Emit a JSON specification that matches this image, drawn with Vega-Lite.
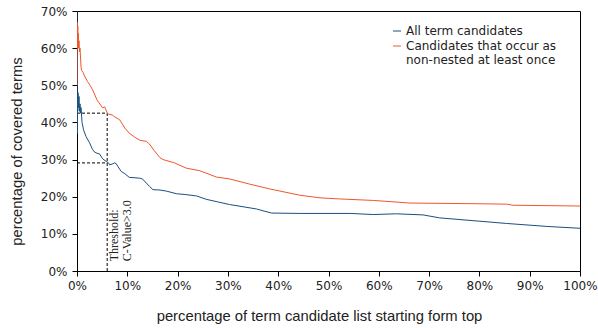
{
  "$schema": "https://vega.github.io/schema/vega-lite/v6.json",
  "width": 503,
  "height": 260,
  "autosize": {"type": "none"},
  "padding": {"left": 77, "top": 11, "right": 18, "bottom": 57},
  "background": "white",
  "config": {
    "view": {"stroke": "black", "strokeWidth": 1},
    "axis": {
      "domainColor": "black",
      "tickColor": "black",
      "tickSize": 5,
      "grid": false,
      "labelOverlap": false,
      "labelFont": "DejaVu Sans",
      "labelFontSize": 12,
      "labelColor": "#222",
      "titleFont": "Liberation Sans",
      "titleFontSize": 14.8,
      "titleFontWeight": "normal",
      "titleColor": "#222"
    }
  },
  "datasets": {
    "series": [
      {"p": 0, "v": 70, "s": "All term candidates"},
      {"p": 0.05, "v": 37, "s": "All term candidates"},
      {"p": 0.1, "v": 47, "s": "All term candidates"},
      {"p": 0.15, "v": 43, "s": "All term candidates"},
      {"p": 0.2, "v": 48, "s": "All term candidates"},
      {"p": 0.3, "v": 44, "s": "All term candidates"},
      {"p": 0.4, "v": 47, "s": "All term candidates"},
      {"p": 0.5, "v": 43, "s": "All term candidates"},
      {"p": 0.6, "v": 45, "s": "All term candidates"},
      {"p": 0.7, "v": 42.5, "s": "All term candidates"},
      {"p": 0.8, "v": 44, "s": "All term candidates"},
      {"p": 0.9, "v": 42, "s": "All term candidates"},
      {"p": 1.0, "v": 40, "s": "All term candidates"},
      {"p": 1.3, "v": 38, "s": "All term candidates"},
      {"p": 1.8, "v": 36.2, "s": "All term candidates"},
      {"p": 2.5, "v": 34.5, "s": "All term candidates"},
      {"p": 3.1, "v": 32.7, "s": "All term candidates"},
      {"p": 3.5, "v": 32, "s": "All term candidates"},
      {"p": 3.8, "v": 31.8, "s": "All term candidates"},
      {"p": 4.5, "v": 31.5, "s": "All term candidates"},
      {"p": 5.1, "v": 30.2, "s": "All term candidates"},
      {"p": 5.8, "v": 29.5, "s": "All term candidates"},
      {"p": 6.2, "v": 29.2, "s": "All term candidates"},
      {"p": 6.5, "v": 28.6, "s": "All term candidates"},
      {"p": 7.0, "v": 28.8, "s": "All term candidates"},
      {"p": 7.5, "v": 29.1, "s": "All term candidates"},
      {"p": 7.8, "v": 28.9, "s": "All term candidates"},
      {"p": 8.1, "v": 28.2, "s": "All term candidates"},
      {"p": 8.8, "v": 26.8, "s": "All term candidates"},
      {"p": 9.5, "v": 26.2, "s": "All term candidates"},
      {"p": 10.4, "v": 25.2, "s": "All term candidates"},
      {"p": 11.5, "v": 25.1, "s": "All term candidates"},
      {"p": 12.4, "v": 25.0, "s": "All term candidates"},
      {"p": 13.0, "v": 24.8, "s": "All term candidates"},
      {"p": 14.4, "v": 22.8, "s": "All term candidates"},
      {"p": 15.1, "v": 21.9, "s": "All term candidates"},
      {"p": 16.5, "v": 21.8, "s": "All term candidates"},
      {"p": 17.8, "v": 21.5, "s": "All term candidates"},
      {"p": 19.8, "v": 20.8, "s": "All term candidates"},
      {"p": 21.5, "v": 20.6, "s": "All term candidates"},
      {"p": 23.8, "v": 20.2, "s": "All term candidates"},
      {"p": 25.7, "v": 19.3, "s": "All term candidates"},
      {"p": 28, "v": 18.6, "s": "All term candidates"},
      {"p": 30.3, "v": 17.9, "s": "All term candidates"},
      {"p": 33, "v": 17.3, "s": "All term candidates"},
      {"p": 35.7, "v": 16.7, "s": "All term candidates"},
      {"p": 37, "v": 16.2, "s": "All term candidates"},
      {"p": 38.7, "v": 15.6, "s": "All term candidates"},
      {"p": 44.3, "v": 15.5, "s": "All term candidates"},
      {"p": 54.3, "v": 15.5, "s": "All term candidates"},
      {"p": 58.9, "v": 15.2, "s": "All term candidates"},
      {"p": 63.5, "v": 15.4, "s": "All term candidates"},
      {"p": 68.8, "v": 15.1, "s": "All term candidates"},
      {"p": 72.1, "v": 14.3, "s": "All term candidates"},
      {"p": 80.1, "v": 13.4, "s": "All term candidates"},
      {"p": 85.4, "v": 12.8, "s": "All term candidates"},
      {"p": 93.4, "v": 12.0, "s": "All term candidates"},
      {"p": 100, "v": 11.5, "s": "All term candidates"},
      {"p": 0, "v": 50, "s": "Candidates that occur as non-nested at least once"},
      {"p": 0.05, "v": 67, "s": "Candidates that occur as non-nested at least once"},
      {"p": 0.1, "v": 60, "s": "Candidates that occur as non-nested at least once"},
      {"p": 0.15, "v": 66, "s": "Candidates that occur as non-nested at least once"},
      {"p": 0.2, "v": 61, "s": "Candidates that occur as non-nested at least once"},
      {"p": 0.25, "v": 64, "s": "Candidates that occur as non-nested at least once"},
      {"p": 0.3, "v": 60, "s": "Candidates that occur as non-nested at least once"},
      {"p": 0.4, "v": 62, "s": "Candidates that occur as non-nested at least once"},
      {"p": 0.5, "v": 59, "s": "Candidates that occur as non-nested at least once"},
      {"p": 0.6, "v": 60, "s": "Candidates that occur as non-nested at least once"},
      {"p": 0.8, "v": 55, "s": "Candidates that occur as non-nested at least once"},
      {"p": 0.9, "v": 54, "s": "Candidates that occur as non-nested at least once"},
      {"p": 1.2, "v": 53.5, "s": "Candidates that occur as non-nested at least once"},
      {"p": 1.5, "v": 52.5, "s": "Candidates that occur as non-nested at least once"},
      {"p": 2.1, "v": 51, "s": "Candidates that occur as non-nested at least once"},
      {"p": 2.6, "v": 50, "s": "Candidates that occur as non-nested at least once"},
      {"p": 3.1, "v": 48.8, "s": "Candidates that occur as non-nested at least once"},
      {"p": 4.0, "v": 46, "s": "Candidates that occur as non-nested at least once"},
      {"p": 5.1, "v": 43.9, "s": "Candidates that occur as non-nested at least once"},
      {"p": 5.5, "v": 44.2, "s": "Candidates that occur as non-nested at least once"},
      {"p": 6.1, "v": 42.3, "s": "Candidates that occur as non-nested at least once"},
      {"p": 7.0, "v": 42, "s": "Candidates that occur as non-nested at least once"},
      {"p": 7.5, "v": 41.5, "s": "Candidates that occur as non-nested at least once"},
      {"p": 8.5, "v": 40.7, "s": "Candidates that occur as non-nested at least once"},
      {"p": 9.5, "v": 38.5, "s": "Candidates that occur as non-nested at least once"},
      {"p": 10.4, "v": 37.1, "s": "Candidates that occur as non-nested at least once"},
      {"p": 11.5, "v": 36, "s": "Candidates that occur as non-nested at least once"},
      {"p": 12.5, "v": 35.2, "s": "Candidates that occur as non-nested at least once"},
      {"p": 13.8, "v": 34.9, "s": "Candidates that occur as non-nested at least once"},
      {"p": 14.4, "v": 34.2, "s": "Candidates that occur as non-nested at least once"},
      {"p": 15.3, "v": 32.5, "s": "Candidates that occur as non-nested at least once"},
      {"p": 16.5, "v": 30.5, "s": "Candidates that occur as non-nested at least once"},
      {"p": 17.1, "v": 30, "s": "Candidates that occur as non-nested at least once"},
      {"p": 19.4, "v": 29.1, "s": "Candidates that occur as non-nested at least once"},
      {"p": 21.7, "v": 27.7, "s": "Candidates that occur as non-nested at least once"},
      {"p": 24.4, "v": 27.0, "s": "Candidates that occur as non-nested at least once"},
      {"p": 27.7, "v": 25.3, "s": "Candidates that occur as non-nested at least once"},
      {"p": 30.3, "v": 24.8, "s": "Candidates that occur as non-nested at least once"},
      {"p": 34.3, "v": 23.4, "s": "Candidates that occur as non-nested at least once"},
      {"p": 38.3, "v": 22.1, "s": "Candidates that occur as non-nested at least once"},
      {"p": 44.3, "v": 20.4, "s": "Candidates that occur as non-nested at least once"},
      {"p": 48.3, "v": 19.7, "s": "Candidates that occur as non-nested at least once"},
      {"p": 52.2, "v": 19.4, "s": "Candidates that occur as non-nested at least once"},
      {"p": 58.9, "v": 19.0, "s": "Candidates that occur as non-nested at least once"},
      {"p": 66.2, "v": 18.3, "s": "Candidates that occur as non-nested at least once"},
      {"p": 80.1, "v": 18.1, "s": "Candidates that occur as non-nested at least once"},
      {"p": 85.4, "v": 18.0, "s": "Candidates that occur as non-nested at least once"},
      {"p": 86.7, "v": 17.7, "s": "Candidates that occur as non-nested at least once"},
      {"p": 100, "v": 17.5, "s": "Candidates that occur as non-nested at least once"}
    ],
    "refs": [
      {"p": 0, "p2": 6, "v": 42.5, "v2": 42.5},
      {"p": 0, "p2": 6, "v": 29.1, "v2": 29.1},
      {"p": 6, "p2": 6, "v": 0, "v2": 42.5}
    ],
    "note": [
      {"p": 6, "v": 2.6}
    ]
  },
  "encoding": {
    "x": {
      "field": "p", "type": "quantitative",
      "scale": {"domain": [0, 100], "nice": false},
      "axis": {
        "values": [0, 10, 20, 30, 40, 50, 60, 70, 80, 90, 100],
        "labelExpr": "datum.value + '%'",
        "labelOverlap": false,
        "labelPadding": 4,
        "labelFlush": false,
        "title": "percentage of term candidate list starting form top",
        "titlePadding": 17,
        "titleX": 242
      }
    },
    "y": {
      "field": "v", "type": "quantitative",
      "scale": {"domain": [0, 70], "nice": false},
      "axis": {
        "values": [0, 10, 20, 30, 40, 50, 60, 70],
        "labelExpr": "datum.value + '%'",
        "labelOverlap": false,
        "labelPadding": 5,
        "labelFlush": false,
        "title": "percentage of covered terms",
        "titlePadding": 16,
        "titleY": 140
      }
    }
  },
  "layer": [
    {
      "data": {"name": "refs"},
      "mark": {"type": "rule", "color": "black", "strokeWidth": 1, "strokeDash": [3, 2]},
      "encoding": {
        "x2": {"field": "p2"},
        "y2": {"field": "v2"}
      }
    },
    {
      "data": {"name": "series"},
      "mark": {"type": "line", "strokeWidth": 1, "clip": true},
      "encoding": {
        "color": {
          "field": "s", "type": "nominal",
          "scale": {
            "domain": ["All term candidates", "Candidates that occur as non-nested at least once"],
            "range": ["#1a4f80", "#f0562a"]
          },
          "legend": {
            "title": null,
            "orient": "none",
            "legendX": 314,
            "legendY": 14,
            "symbolType": "stroke",
            "symbolSize": 64,
            "symbolStrokeWidth": 1,
            "labelFont": "DejaVu Sans",
            "labelFontSize": 12,
            "labelColor": "#222",
            "labelOffset": 3,
            "labelLimit": 400,
            "labelBaseline": "middle",
            "rowPadding": 3,
            "labelExpr": "datum.label == 'All term candidates' ? datum.label : ['Candidates that occur as', 'non-nested at least once']"
          }
        }
      }
    },
    {
      "data": {"name": "note"},
      "mark": {
        "type": "text",
        "text": ["Threshold:", "C-Value>3.0"],
        "angle": 270,
        "align": "left",
        "baseline": "top",
        "font": "Liberation Serif",
        "fontSize": 12,
        "lineHeight": 12.5,
        "color": "#222",
        "dy": 2
      }
    }
  ]
}
